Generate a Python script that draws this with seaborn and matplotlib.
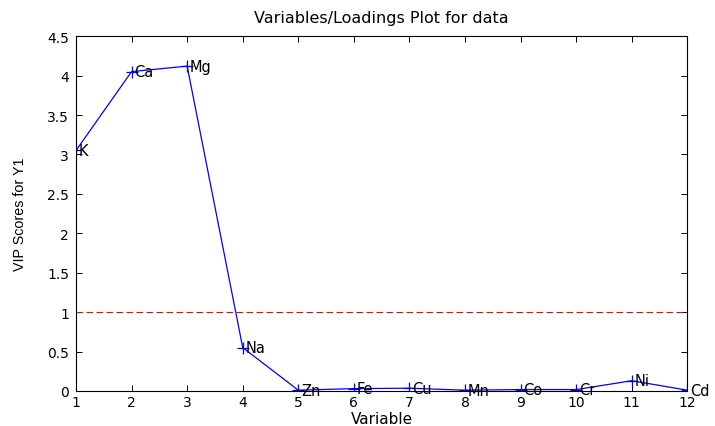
import matplotlib
matplotlib.use("Agg")
import matplotlib.pyplot as plt
import seaborn as sns
import pandas as pd

variables = [1, 2, 3, 4, 5, 6, 7, 8, 9, 10, 11, 12]
elements = ["K", "Ca", "Mg", "Na", "Zn", "Fe", "Cu", "Mn", "Co", "Cr", "Ni", "Cd"]
vip = [3.05, 4.05, 4.12, 0.55, 0.01, 0.03, 0.035, 0.01, 0.018, 0.018, 0.13, 0.01]
threshold = 1.0

sns.set_style("ticks")
plt.rcParams['font.family'] = ['DejaVu Sans']
plt.rcParams['font.size'] = 10
plt.rcParams['text.color'] = 'black'
plt.rcParams['axes.labelcolor'] = 'black'
plt.rcParams['axes.titlecolor'] = 'black'

df = pd.DataFrame({"Variable": variables, "VIP": vip, "Element": elements})

fig = plt.figure(figsize=(7.15, 4.27), dpi=100)
ax = fig.add_axes([0.1063, 0.082, 0.855, 0.831])

sns.lineplot(data=df, x="Variable", y="VIP", ax=ax, color="blue", linewidth=0.9,
             marker="+", markersize=9, markeredgewidth=0.9, markeredgecolor="blue")
ax.axhline(threshold, color="red", linestyle=(0, (6, 3)), linewidth=0.8)

for xv, yv, name in zip(df["Variable"], df["VIP"], df["Element"]):
    ax.text(xv + 0.05, yv, name, ha="left", va="center", fontsize=10.5, color="black")

ax.set_xlim(1, 12)
ax.set_ylim(0, 4.5)
ax.set_xticks(range(1, 13))
ax.set_yticks([0, 0.5, 1, 1.5, 2, 2.5, 3, 3.5, 4, 4.5])
ax.set_yticklabels(["0", "0.5", "1", "1.5", "2", "2.5", "3", "3.5", "4", "4.5"])
ax.tick_params(direction="in", top=True, right=True, length=4, width=0.7,
               labelsize=10, colors="black", pad=5)
ax.tick_params(axis="x", pad=3)
for s in ax.spines.values():
    s.set_visible(True)
    s.set_linewidth(0.8)
    s.set_color("black")

ax.set_xlabel("Variable", fontsize=11, labelpad=1, color="black")
ax.set_ylabel("VIP Scores for Y1", fontsize=10.3, labelpad=14.5, color="black",
              family=["Liberation Sans", "DejaVu Sans"])
ax.set_title("Variables/Loadings Plot for data", fontsize=11.5, pad=10, color="black",
             family=["DejaVu Sans"])

fig.savefig("out.png", dpi=100)
